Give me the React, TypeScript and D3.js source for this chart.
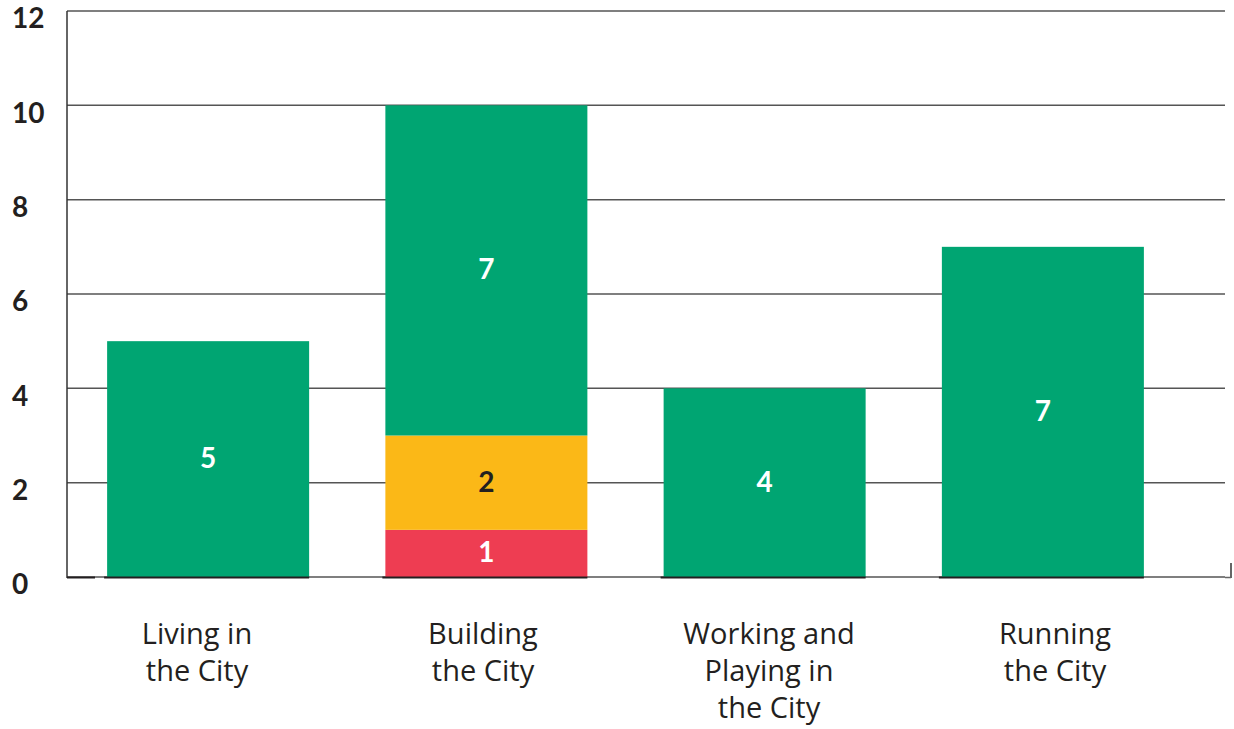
import React from "react";
import * as d3 from "d3";

const categories = ["Living in the City", "Building the City", "Working and Playing in the City", "Running the City"];
const labelLines = [["Living in", "the City"], ["Building", "the City"], ["Working and", "Playing in", "the City"], ["Running", "the City"]];
const seriesNames = ["red", "yellow", "green"];
const redValues = [0, 1, 0, 0];
const yellowValues = [0, 2, 0, 0];
const greenValues = [5, 7, 4, 7];
const seriesColors = ["#EE3D52", "#FBB817", "#00A572"];
const seriesTextColors = ["#ffffff", "#231F20", "#ffffff"];
const yTicks = [0, 2, 4, 6, 8, 10, 12];

const W = 1234, H = 729;
const FONT = "Lato, 'Open Sans', sans-serif";
const LABEL_FONT = "'Open Sans', Lato, sans-serif";

export default function App() {
  const y = d3.scaleLinear().domain([0, 12]).range([577, 11]);
  const x = d3.scaleBand<string>().domain(categories).range([69, 1182]).paddingInner(0.274).paddingOuter(0.137);
  const xl = d3.scalePoint<string>().domain(categories).range([197, 1055]);
  const rows = categories.map((c, i) => ({ cat: c, red: redValues[i], yellow: yellowValues[i], green: greenValues[i] }));
  const stacked = d3.stack<any>().keys(seriesNames)(rows);

  return (
    <svg width={W} height={H} style={{ position: "absolute", left: 0, top: 0, background: "#fff" }}>
      {yTicks.map(t => (
        <g key={t}>
          <line x1={67} x2={1225} y1={y(t)} y2={y(t)} stroke="#555" strokeWidth={1.5} />
          <text x={12} y={y(t) + 10} dominantBaseline="middle" fontFamily={FONT} fontWeight={700} fontSize={28} fill="#231F20">{t}</text>
        </g>
      ))}
      <line x1={1231} x2={1231} y1={563} y2={578} stroke="#666" strokeWidth={2} />
      <line x1={1225} x2={1231} y1={577.5} y2={577.5} stroke="#666" strokeWidth={1.5} />
      {stacked.map((s, si) => (
        <g key={s.key}>
          {s.map((d, i) => {
            const v = d[1] - d[0];
            if (v <= 0) return null;
            const bx = x(categories[i])!;
            const top = y(d[1]), bot = y(d[0]);
            return (
              <g key={i}>
                <rect x={bx} y={top} width={x.bandwidth()} height={bot - top} fill={seriesColors[si]} />
                <text x={bx + x.bandwidth() / 2} y={(top + bot) / 2 - 2} textAnchor="middle" dominantBaseline="central"
                  fontFamily={FONT} fontWeight={700} fontSize={28} fill={seriesTextColors[si]}>{v}</text>
              </g>
            );
          })}
        </g>
      ))}
      {categories.map(c => (
        <line key={c} x1={x(c)! - 3} x2={x(c)! + x.bandwidth()} y1={577.5} y2={577.5} stroke="#231F20" strokeWidth={2} />
      ))}
      <line x1={67} x2={67} y1={11} y2={578} stroke="#333" strokeWidth={1.5} />
      <line x1={67} x2={95} y1={577.5} y2={577.5} stroke="#231F20" strokeWidth={2} />
      {categories.map((c, i) => (
        <text key={c} x={xl(c)} textAnchor="middle" fontFamily={LABEL_FONT} fontSize={29} fill="#231F20">
          {labelLines[i].map((l, j) => (
            <tspan key={j} x={xl(c)} y={644 + j * 37}>{l}</tspan>
          ))}
        </text>
      ))}
    </svg>
  );
}
